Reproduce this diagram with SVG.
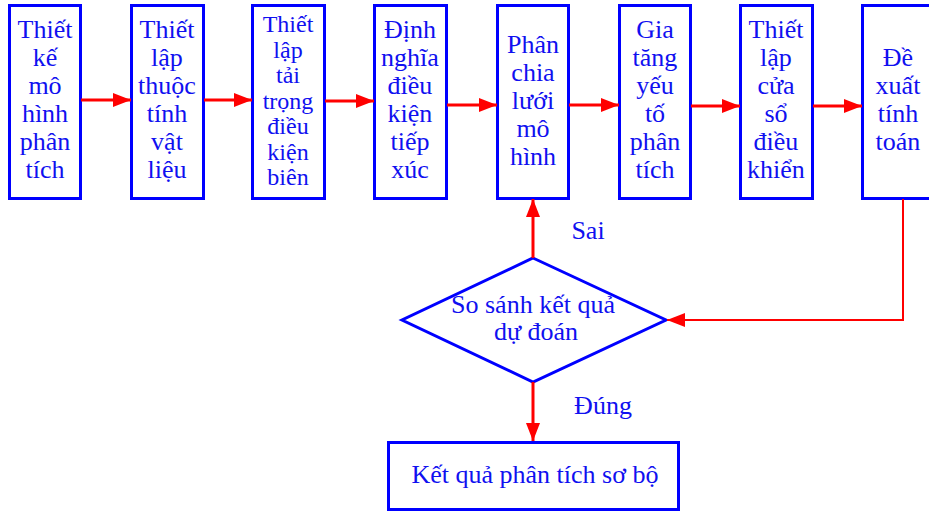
<svg xmlns="http://www.w3.org/2000/svg" width="929" height="512" viewBox="0 0 929 512">
  <style>
    .box { fill: #ffffff; stroke: #0000ff; stroke-width: 3; }
    .lbl { font-family: "Liberation Serif", "Times New Roman", serif; font-size: 26px; fill: #1010f0; text-anchor: middle; }
    .tight { font-size: 24px; }
    .edge { fill: none; stroke: #ff0000; stroke-width: 3; }
    .thin { stroke-width: 2; }
  </style>
  <defs>
    <marker id="head" markerUnits="userSpaceOnUse" markerWidth="18" markerHeight="14" refX="18" refY="7" orient="auto">
      <path d="M0,0 L18,7 L0,14 Z" fill="#ff0000"/>
    </marker>
  </defs>
  <rect width="929" height="512" fill="#ffffff"/>

  <!-- process steps -->
  <g id="n1">
    <rect class="box" x="9.5" y="5.5" width="71" height="193"/>
    <text class="lbl" x="45" y="38">Thiết<tspan x="45" dy="28">kế</tspan><tspan x="45" dy="28">mô</tspan><tspan x="45" dy="28">hình</tspan><tspan x="45" dy="28">phân</tspan><tspan x="45" dy="28">tích</tspan></text>
  </g>
  <g id="n2">
    <rect class="box" x="131.5" y="5.5" width="72" height="193"/>
    <text class="lbl" x="167" y="38">Thiết<tspan x="167" dy="28">lập</tspan><tspan x="167" dy="28">thuộc</tspan><tspan x="167" dy="28">tính</tspan><tspan x="167" dy="28">vật</tspan><tspan x="167" dy="28">liệu</tspan></text>
  </g>
  <g id="n3">
    <rect class="box" x="252.5" y="5.5" width="72" height="193"/>
    <text class="lbl tight" x="288" y="32">Thiết<tspan x="288" dy="25.5">lập</tspan><tspan x="288" dy="25.5">tải</tspan><tspan x="288" dy="25.5">trọng</tspan><tspan x="288" dy="25.5">điều</tspan><tspan x="288" dy="25.5">kiện</tspan><tspan x="288" dy="25.5">biên</tspan></text>
  </g>
  <g id="n4">
    <rect class="box" x="374.5" y="5.5" width="72" height="193"/>
    <text class="lbl" x="410" y="38">Định<tspan x="410" dy="28">nghĩa</tspan><tspan x="410" dy="28">điều</tspan><tspan x="410" dy="28">kiện</tspan><tspan x="410" dy="28">tiếp</tspan><tspan x="410" dy="28">xúc</tspan></text>
  </g>
  <g id="n5">
    <rect class="box" x="497.5" y="5.5" width="71" height="193"/>
    <text class="lbl" x="533" y="53">Phân<tspan x="533" dy="28">chia</tspan><tspan x="533" dy="28">lưới</tspan><tspan x="533" dy="28">mô</tspan><tspan x="533" dy="28">hình</tspan></text>
  </g>
  <g id="n6">
    <rect class="box" x="619.5" y="5.5" width="71" height="193"/>
    <text class="lbl" x="655" y="38">Gia<tspan x="655" dy="28">tăng</tspan><tspan x="655" dy="28">yếu</tspan><tspan x="655" dy="28">tố</tspan><tspan x="655" dy="28">phân</tspan><tspan x="655" dy="28">tích</tspan></text>
  </g>
  <g id="n7">
    <rect class="box" x="740.5" y="5.5" width="72" height="193"/>
    <text class="lbl" x="776" y="38">Thiết<tspan x="776" dy="28">lập</tspan><tspan x="776" dy="28">cửa</tspan><tspan x="776" dy="28">sổ</tspan><tspan x="776" dy="28">điều</tspan><tspan x="776" dy="28">khiển</tspan></text>
  </g>
  <g id="n8">
    <rect class="box" x="862.5" y="5.5" width="72" height="193"/>
    <text class="lbl" x="898" y="66">Đề<tspan x="898" dy="28">xuất</tspan><tspan x="898" dy="28">tính</tspan><tspan x="898" dy="28">toán</tspan></text>
  </g>

  <!-- decision -->
  <g id="decision">
    <polygon class="box" points="533,258 666,320 533,382 402,320"/>
    <text class="lbl" x="533" y="313">So sánh kết quả<tspan x="536" dy="27">dự đoán</tspan></text>
  </g>

  <!-- result -->
  <g id="result">
    <rect class="box" x="388.5" y="442.5" width="290" height="67"/>
    <text class="lbl" x="535" y="483">Kết quả phân tích sơ bộ</text>
  </g>

  <!-- connectors -->
  <g id="connectors">
    <line class="edge" x1="81" y1="100" x2="131" y2="100" marker-end="url(#head)"/>
    <line class="edge" x1="204" y1="100" x2="252" y2="100" marker-end="url(#head)"/>
    <line class="edge" x1="325" y1="101" x2="374" y2="101" marker-end="url(#head)"/>
    <line class="edge" x1="447" y1="105" x2="497" y2="105" marker-end="url(#head)"/>
    <line class="edge" x1="569" y1="105" x2="619" y2="105" marker-end="url(#head)"/>
    <line class="edge" x1="691" y1="106" x2="740" y2="106" marker-end="url(#head)"/>
    <line class="edge" x1="813" y1="106" x2="862" y2="106" marker-end="url(#head)"/>
    <line class="edge" x1="533" y1="258" x2="533" y2="199" marker-end="url(#head)"/>
    <line class="edge" x1="533" y1="382" x2="533" y2="441" marker-end="url(#head)"/>
    <polyline class="edge thin" points="903,199 903,320 667,320" marker-end="url(#head)"/>
    <text class="lbl" x="588" y="239">Sai</text>
    <text class="lbl" x="603" y="414">Đúng</text>
  </g>
</svg>
